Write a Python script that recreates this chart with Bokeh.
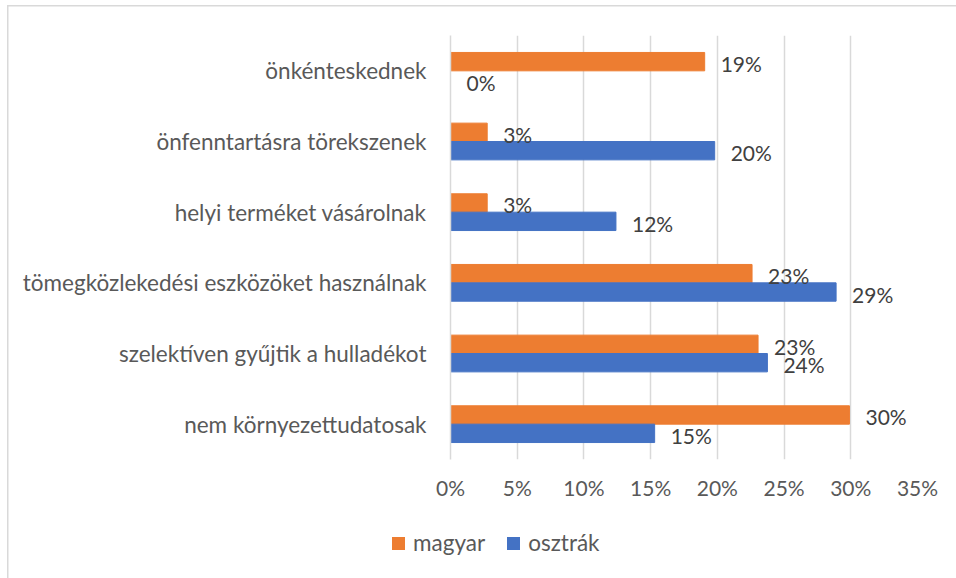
from bokeh.plotting import figure
from bokeh.layouts import column
from bokeh.models import ColumnDataSource, FactorRange, FixedTicker, PrintfTickFormatter, Div
from bokeh.transform import dodge
from bokeh.core.properties import value
from bokeh.embed import file_html
from bokeh.resources import INLINE

categories = ["nem környezettudatosak", "szelektíven gyűjtik a hulladékot",
              "tömegközlekedési eszközöket használnak", "helyi terméket vásárolnak",
              "önfenntartásra törekszenek", "önkénteskednek"]
magyar = [29.9, 23.05, 22.6, 2.75, 2.75, 19.05]
osztrak = [15.3, 23.75, 28.9, 12.4, 19.8, 0.0]
x_ticks = [0, 5, 10, 15, 20, 25, 30, 35]
series_names = ["magyar", "osztrák"]
series_colors = ["#ED7D31", "#4472C4"]

FONT = "Lato"
FS_CAT = "22.5px"
FS_NUM = "21px"

src = ColumnDataSource(dict(
    cat=categories,
    magyar=magyar,
    osztrak=osztrak,
    lm=[f"{round(v):d}%" for v in magyar],
    lo=[f"{round(v):d}%" for v in osztrak],
))

p = figure(width=956, height=520, output_backend="svg", toolbar_location=None,
           y_range=FactorRange(factors=categories, range_padding=0),
           x_range=(0, 35), min_border_left=450, min_border_right=39,
           min_border_top=35, min_border_bottom=61)
p.border_fill_alpha = 0

p.hbar(y=dodge("cat", 0.13, range=p.y_range), right="magyar", left=0, height=0.26,
       color=series_colors[0], source=src)
p.hbar(y=dodge("cat", -0.13, range=p.y_range), right="osztrak", left=0, height=0.26,
       color=series_colors[1], source=src)

p.text(x="magyar", y=dodge("cat", 0.13, range=p.y_range), text="lm", source=src,
       x_offset=16, y_offset=2, text_baseline="middle", text_align="left",
       text_font=value(FONT), text_font_size=FS_NUM, text_color="#404040")
p.text(x="osztrak", y=dodge("cat", -0.13, range=p.y_range), text="lo", source=src,
       x_offset=16, y_offset=2, text_baseline="middle", text_align="left",
       text_font=value(FONT), text_font_size=FS_NUM, text_color="#404040")

p.outline_line_color = None
p.ygrid.grid_line_color = None
p.xgrid.grid_line_color = "#d9d9d9"
p.xgrid.grid_line_width = 1.5
p.xaxis.ticker = FixedTicker(ticks=x_ticks)
p.xaxis.formatter = PrintfTickFormatter(format="%d%%")

for ax in (p.xaxis, p.yaxis):
    ax.major_tick_line_color = None
    ax.minor_tick_line_color = None
    ax.major_tick_out = 0
    ax.major_tick_in = 0
    ax.major_label_text_font = FONT
    ax.major_label_text_color = "#595959"
p.xaxis.major_label_text_font_size = FS_NUM
p.yaxis.major_label_text_font_size = FS_CAT
p.xaxis.axis_line_color = None
p.yaxis.axis_line_color = "#d9d9d9"
p.yaxis.axis_line_width = 1.5
p.yaxis.major_label_standoff = 24
p.xaxis.major_label_standoff = 15

# legend strip (HTML)
items_html = ""
for i, (name, col) in enumerate(zip(series_names, series_colors)):
    ml = "0px" if i == 0 else "22px"
    items_html += (f'<span style="display:inline-block;width:13px;height:13px;'
                   f'background:{col};margin-left:{ml};margin-right:8px"></span>'
                   f'<span style="line-height:20px">{name}</span>')
legend_html = (f'<div style="display:flex;align-items:center;height:20px;'
               f'margin-top:13px;margin-left:392px;font-family:{FONT};font-size:{FS_CAT};'
               f'color:#595959;white-space:nowrap">{items_html}</div>')
leg = Div(text=legend_html, width=956, height=58, margin=0)

layout = column(p, leg, spacing=0)
layout.styles = {
    "background": "linear-gradient(#d9d9d9,#d9d9d9) 7px 5px / 1.5px 100% no-repeat, "
                  "linear-gradient(#d9d9d9,#d9d9d9) 7px 5px / 100% 1.5px no-repeat, #ffffff"
}

open("out.html", "w").write(file_html(layout, INLINE))
